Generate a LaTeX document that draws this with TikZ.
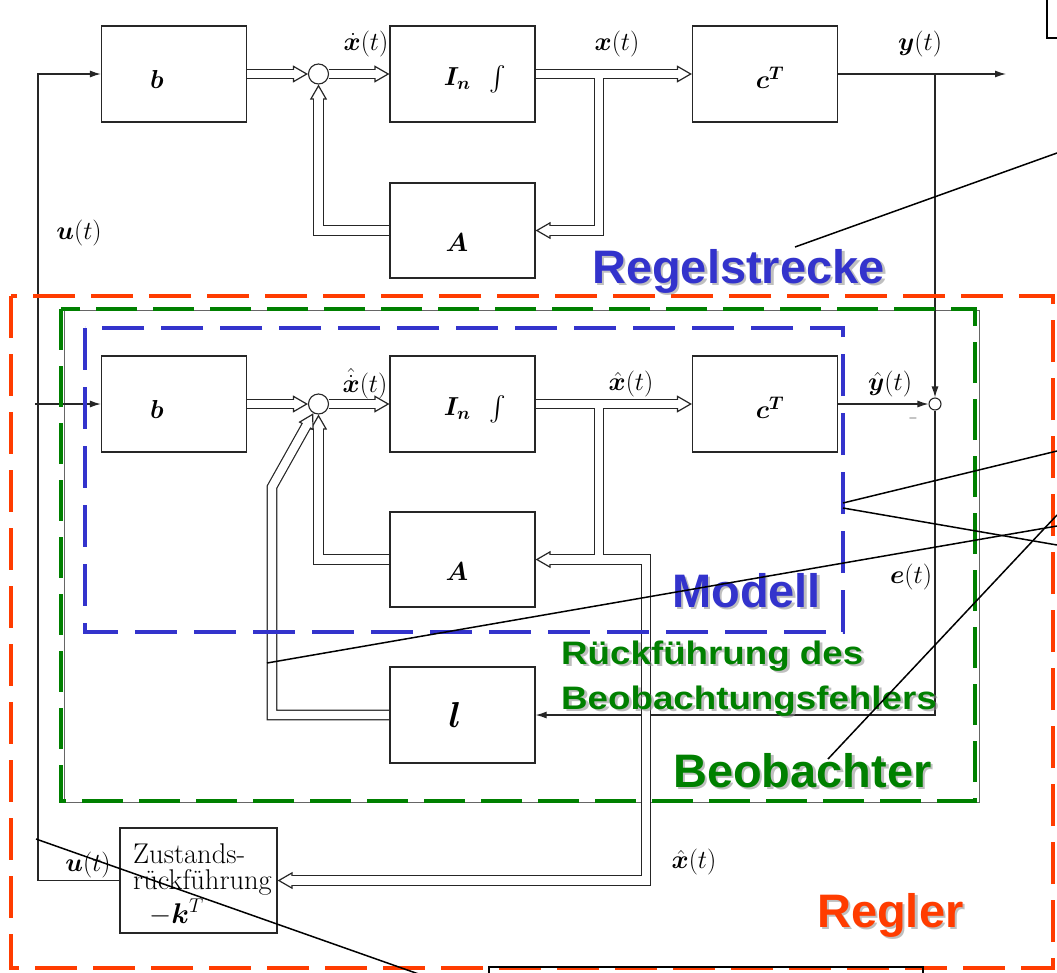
\RequirePackage{fix-cm}
\documentclass[tikz,border=0pt]{standalone}
\usepackage{amsmath,bm}
\usepackage{fontspec}
\newfontfamily\sansb{Liberation Sans}
\usetikzlibrary{arrows.meta}
\definecolor{regred}{RGB}{255,60,0}
\definecolor{obsgreen}{RGB}{0,128,0}
\definecolor{modblue}{RGB}{51,51,204}
\pgfdeclarelayer{bg}
\pgfsetlayers{bg,main}
\newcommand\shtxt[6]{%
  \node[anchor=base west, inner sep=0pt, text=black!45, opacity=0.55, xscale=#5, transform shape,
        font=\sansb\bfseries\fontsize{#4}{#4}\selectfont, xshift=2.5pt, yshift=-2.5pt] (#1s) at (#2) {#6};
  \node[anchor=base west, inner sep=0pt, text=#3, xscale=#5, transform shape,
        font=\sansb\bfseries\fontsize{#4}{#4}\selectfont] (#1) at (#2) {#6};}
\newcommand\dblnet{%
  \draw[dbl,dtip] (b1.east) -- (s1.west);
  \draw[dbl,dtip] (s1.east) -- (I1.west);
  \draw[dbl,dtip] (I1.east) -- (c1.west);
  \draw[dbl,dtip] (br1) |- (A1.east);
  \draw[dbl,dtip] (A1.west) -| (s1.south);
  \draw[dbl,dtip] (b2.east) -- (s2.west);
  \draw[dbl,dtip] (s2.east) -- (I2.west);
  \draw[dbl,dtip] (I2.east) -- (c2.west);
  \draw[dbl,dtip] (br2) |- (A2.east);
  \draw[dbl,dtip] (j2) -- (j3) -- (j4) -- (Z.east);
  \draw[dbl,dtip] (A2.west) -| (s2.south);
  \draw[dbl,dtip] (l.west) -- (m1) -- (m2) -- (s2);
}
\begin{document}
\begin{tikzpicture}[x=1pt,y=-1pt,
  box/.style={draw=black!85, line width=1.2pt, minimum width=145pt, minimum height=96pt, inner sep=0pt},
  sumc/.style={circle, draw=black!85, line width=1.1pt, fill=white, minimum size=20pt, inner sep=0pt},
  sig/.style={draw=black!85, line width=1.2pt},
  arr/.style={-{Latex[length=11pt,width=7pt]}},
  mlab/.style={inner sep=0pt, font=\fontsize{26}{30}\selectfont},
  ztxt/.style={inner sep=0pt, anchor=base west, font=\fontsize{28.5}{30}\selectfont},
  ptr/.style={draw=black, line width=1.5pt},
  dashR/.style={draw=regred, line width=4pt, dash pattern=on 42pt off 16pt},
  dashG/.style={draw=obsgreen, line width=4pt, dash pattern=on 41pt off 16pt},
  dashB/.style={draw=modblue, line width=4pt, dash pattern=on 42pt off 17pt},
  dbl/.style={draw=black!85, line width=10.6pt},
  dtip/.style={-{Triangle[fill=white,length=15pt,width=17pt,line width=1.2pt]}}
]
\useasboundingbox (0,0) rectangle (1057,972);
\clip (0,0) rectangle (1057,972);

% ---------- blocks ----------
\node[box] (b1) at (174,74) {};
\node[box] (I1) at (462.5,74) {};
\node[box] (c1) at (765,74) {};
\node[box, minimum height=95pt] (A1) at (462.5,230.5) {};
\node[sumc] (s1) at (318.5,74) {};

\node[box] (b2) at (174,404) {};
\node[box] (I2) at (462.5,404) {};
\node[box] (c2) at (765,404) {};
\node[box, minimum height=95pt] (A2) at (462.5,559.5) {};
\node[box] (l) at (462.5,715) {};
\node[sumc] (s2) at (318.5,404) {};
\node[sumc, minimum size=12pt] (s3) at (935,404) {};
\node[box, minimum width=157pt, minimum height=105pt] (Z) at (198.5,880.5) {};

% ---------- coordinates ----------
\coordinate (br1) at (599,74);
\coordinate (br2) at (599,404);
\coordinate (j2) at (599,559.5);
\coordinate (j3) at (646,559.5);
\coordinate (j4) at (646,880.5);
\coordinate (m1) at (272,715);
\coordinate (m2) at (272,487);
\coordinate (u0) at (38,880.5);
\coordinate (u1) at (38,74);
\coordinate (u2) at (35,404);
\coordinate (yout) at (1006,74);
\coordinate (ybr) at (935,74);
\coordinate (e1) at (935,715);

\begin{pgfonlayer}{bg}
  \fill[white] (0,0) rectangle (1057,972);
  % observer frame (thin)
  \draw[draw=black!60, line width=1pt] (64,310) rectangle (979,802);
  % thin signal lines
  \draw[sig,arr] (Z.west) -- (u0) -- (u1) -- (b1.west);
  \draw[sig,arr] (u2) -- (b2.west);
  \draw[sig,arr] (c1.east) -- (yout);
  \draw[sig,arr] (ybr) -- (s3.north);
  \draw[sig,arr] (c2.east) -- (s3.west);
  \draw[sig,arr] (s3.south) -- (e1) -- (l.east);
  % double lines: outer pass
  \dblnet
  % inner pass
  \tikzset{dbl/.style={draw=white, line width=8.2pt}, dtip/.style={shorten >=13pt}}
  \dblnet
\end{pgfonlayer}

% ---------- block labels ----------
\node[mlab] (Lb1) at (157,79) {$\bm b$};
\node[mlab] (LI1) at (475,79) {$\bm I_{\bm n}\;\;\textstyle\int$};
\node[mlab] (Lc1) at (770,78) {$\bm c^{\bm T}$};
\node[mlab] (LA1) at (457,243) {$\bm A$};
\node[mlab] (Lb2) at (157,409) {$\bm b$};
\node[mlab] (LI2) at (475,409) {$\bm I_{\bm n}\;\;\textstyle\int$};
\node[mlab] (Lc2) at (770,408) {$\bm c^{\bm T}$};
\node[mlab] (LA2) at (457,572) {$\bm A$};
\node[mlab, font=\fontsize{36}{40}\selectfont] (Ll) at (455,715) {$\bm l$};
\node[ztxt] (Z1) at (133,863) {Zustands-};
\node[ztxt] (Z2) at (133,889) {rückführung};
\node[ztxt] (Z3) at (149,923) {$-\bm k^T$};

% ---------- signal labels ----------
\node[mlab] (lxd) at (366,44) {$\dot{\bm x}(t)$};
\node[mlab] (lx) at (617,44) {$\bm x(t)$};
\node[mlab] (ly) at (920,44) {$\bm y(t)$};
\node[mlab] (lu) at (79,233) {$\bm u(t)$};
\node[mlab] (lxhd) at (365,384) {$\hat{\dot{\bm x}}(t)$};
\node[mlab] (lxh) at (631,384) {$\hat{\bm x}(t)$};
\node[mlab] (lyh) at (890,384) {$\hat{\bm y}(t)$};
\node[mlab, font=\fontsize{12}{12}\selectfont] (lminus) at (913,418) {$-$};
\node[mlab] (le) at (911,577) {$\bm e(t)$};
\node[mlab] (lxh2) at (694,862) {$\hat{\bm x}(t)$};
\node[mlab] (lu2) at (88,865) {$\bm u(t)$};

% ---------- dashed frames ----------
\draw[dashB] (85,328) rectangle (843,632);
\draw[dashG] (61,309) rectangle (975,801);
\draw[dashR] (11,296) rectangle (1053,968);

% ---------- big labels ----------
\shtxt{tReg}{592,283}{modblue}{47}{1}{Regelstrecke}
\shtxt{tMod}{672,607}{modblue}{47}{1}{Modell}
\shtxt{tRf1}{561,664}{obsgreen}{32.5}{1.13}{Rückführung des}
\shtxt{tRf2}{561,709}{obsgreen}{32.5}{1.13}{Beobachtungsfehlers}
\shtxt{tBeo}{673,787}{obsgreen}{47}{1}{Beobachter}
\shtxt{tRgl}{817,927}{regred}{47}{1}{Regler}

% ---------- pointer lines ----------
\coordinate (p1a) at (795,247);  \coordinate (p1b) at (1057,153);
\coordinate (p2a) at (843,503);  \coordinate (p2b) at (1057,451);
\coordinate (p3a) at (843,508);  \coordinate (p3b) at (1057,545);
\coordinate (p4a) at (267,663);  \coordinate (p4b) at (1057,526);
\coordinate (p5a) at (828,759);  \coordinate (p5b) at (1057,515);
\coordinate (p6a) at (36,839);   \coordinate (p6b) at (430,978);
\draw[ptr] (p1a) -- (p1b);
\draw[ptr] (p2a) -- (p2b);
\draw[ptr] (p3a) -- (p3b);
\draw[ptr] (p4a) -- (p4b);
\draw[ptr] (p5a) -- (p5b);
\draw[ptr] (p6a) -- (p6b);

% ---------- cut-off boxes at the picture border ----------
\draw[line width=2pt] (1047,-10) rectangle (1080,38);
\draw[line width=2pt] (489,967) rectangle (923,1000);
\end{tikzpicture}
\end{document}
